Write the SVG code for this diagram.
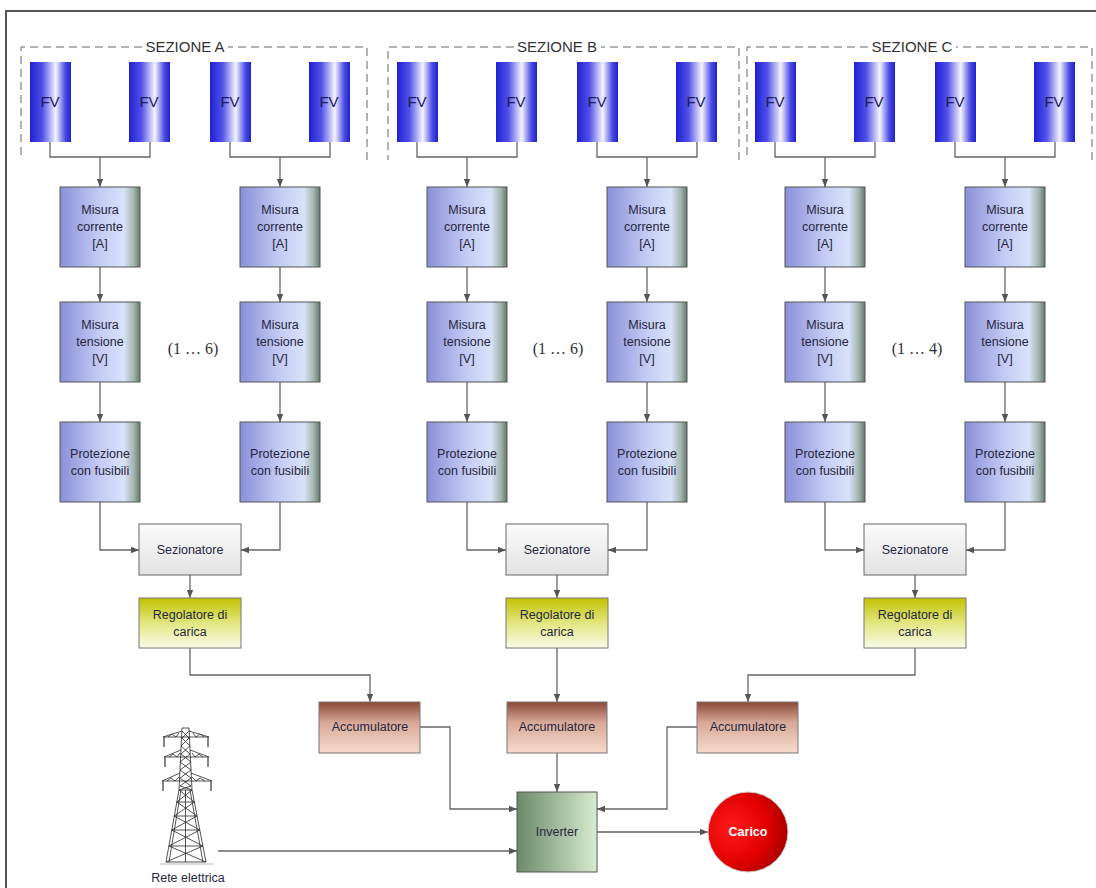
<svg xmlns="http://www.w3.org/2000/svg" width="1096" height="888" viewBox="0 0 1096 888">
  <defs>
    <linearGradient id="gFV" x1="0" y1="0" x2="1" y2="0">
      <stop offset="0" stop-color="#2020d4"/>
      <stop offset="0.3" stop-color="#5050e8"/>
      <stop offset="0.63" stop-color="#f4f4ff"/>
      <stop offset="0.86" stop-color="#4c4ce4"/>
      <stop offset="1" stop-color="#2020cc"/>
    </linearGradient>
    <linearGradient id="gMis" x1="0" y1="0" x2="1" y2="0">
      <stop offset="0" stop-color="#8a90d8"/>
      <stop offset="0.5" stop-color="#c4ccf4"/>
      <stop offset="0.8" stop-color="#d8e2fa"/>
      <stop offset="0.92" stop-color="#a4b6ae"/>
      <stop offset="1" stop-color="#66796c"/>
    </linearGradient>
    <linearGradient id="gSez" x1="0" y1="0" x2="0" y2="1">
      <stop offset="0" stop-color="#fbfbfb"/>
      <stop offset="1" stop-color="#e2e2e2"/>
    </linearGradient>
    <linearGradient id="gReg" x1="0" y1="0" x2="0" y2="1">
      <stop offset="0" stop-color="#c2c200"/>
      <stop offset="0.5" stop-color="#e2e680"/>
      <stop offset="1" stop-color="#f8fce8"/>
    </linearGradient>
    <linearGradient id="gAcc" x1="0" y1="0" x2="0" y2="1">
      <stop offset="0" stop-color="#8a4836"/>
      <stop offset="0.4" stop-color="#d8a898"/>
      <stop offset="1" stop-color="#f6dccc"/>
    </linearGradient>
    <linearGradient id="gInv" x1="0" y1="0" x2="1" y2="0">
      <stop offset="0" stop-color="#6a8a68"/>
      <stop offset="1" stop-color="#d8ecd0"/>
    </linearGradient>
    <radialGradient id="gCar" cx="0.3" cy="0.45" r="0.75">
      <stop offset="0" stop-color="#ff1a1a"/>
      <stop offset="0.6" stop-color="#e00000"/>
      <stop offset="1" stop-color="#a00000"/>
    </radialGradient>
    <marker id="ah" viewBox="0 0 10 10" refX="10" refY="5" markerWidth="8" markerHeight="8" markerUnits="userSpaceOnUse" orient="auto">
      <path d="M0,1 L10,5 L0,9 z" fill="#555"/>
    </marker>
  </defs>
  <style>
    text { font-family: "Liberation Sans", Arial, sans-serif; fill: #262640; text-anchor: middle; }
    .lbl { font-size: 12.5px; }
    .fvt { font-size: 15px; fill: #1c1c5a; }
    .ttl { font-size: 15px; fill: #333; }
    .cnt { font-family: "Liberation Serif", "Times New Roman", serif; font-size: 16px; fill: #333; }
    .fv { fill: url(#gFV); }
    .mis { fill: url(#gMis); stroke: #555; stroke-width: 1; }
    .sez { fill: url(#gSez); stroke: #666; stroke-width: 1; }
    .reg { fill: url(#gReg); stroke: #777; stroke-width: 1; }
    .acc { fill: url(#gAcc); stroke: #777; stroke-width: 1; }
    .inv { fill: url(#gInv); stroke: #555; stroke-width: 1; }
    .sect { fill: none; stroke: #666; stroke-width: 1; stroke-dasharray: 8 5; }
    .wire { fill: none; stroke: #666; stroke-width: 1.3; }
    .arr { fill: none; stroke: #666; stroke-width: 1.3; marker-end: url(#ah); }
    .pylon { fill: none; stroke: #2a2a2a; stroke-width: 0.8; }
  </style>

  <rect x="0" y="0" width="1096" height="888" fill="#ffffff"/>
  <!-- outer frame -->
  <path d="M6,888 V11 H1096" fill="none" stroke="#555" stroke-width="2"/>

  <!-- section frames -->
  <g id="sezione-a">
    <path class="sect" d="M142,47 H21 V160 M367,160 V47 H228"/>
    <text class="ttl" x="185" y="52">SEZIONE A</text>
  </g>
  <g id="sezione-b">
    <path class="sect" d="M514,47 H388 V160 M739,160 V47 H601"/>
    <text class="ttl" x="557" y="52">SEZIONE B</text>
  </g>
  <g id="sezione-c">
    <path class="sect" d="M868,47 H747 V160 M1092,160 V47 H956"/>
    <text class="ttl" x="912" y="52">SEZIONE C</text>
  </g>

  <!-- connectors -->
  <g id="connectors">
    <!-- panel pairs -->
    <path class="wire" d="M50,142 V157 H150 V142 M230,142 V157 H330 V142"/>
    <path class="wire" d="M417,142 V157 H517 V142 M597,142 V157 H697 V142"/>
    <path class="wire" d="M775,142 V157 H875 V142 M955,142 V157 H1055 V142"/>
    <!-- vertical chains -->
    <path class="arr" d="M100,157 V187"/><path class="arr" d="M100,267 V302"/><path class="arr" d="M100,382 V422"/>
    <path class="arr" d="M280,157 V187"/><path class="arr" d="M280,267 V302"/><path class="arr" d="M280,382 V422"/>
    <path class="arr" d="M467,157 V187"/><path class="arr" d="M467,267 V302"/><path class="arr" d="M467,382 V422"/>
    <path class="arr" d="M647,157 V187"/><path class="arr" d="M647,267 V302"/><path class="arr" d="M647,382 V422"/>
    <path class="arr" d="M825,157 V187"/><path class="arr" d="M825,267 V302"/><path class="arr" d="M825,382 V422"/>
    <path class="arr" d="M1005,157 V187"/><path class="arr" d="M1005,267 V302"/><path class="arr" d="M1005,382 V422"/>
    <!-- into disconnectors -->
    <path class="arr" d="M100,502 V550 H139"/><path class="arr" d="M280,502 V550 H241"/>
    <path class="arr" d="M467,502 V550 H506"/><path class="arr" d="M647,502 V550 H608"/>
    <path class="arr" d="M825,502 V550 H864"/><path class="arr" d="M1005,502 V550 H966"/>
    <!-- disconnector to charge regulator -->
    <path class="arr" d="M190,575 V598"/>
    <path class="arr" d="M557,575 V598"/>
    <path class="arr" d="M915,575 V598"/>
    <!-- regulators to batteries -->
    <path class="arr" d="M190,648 V675 H370 V702"/>
    <path class="arr" d="M557,648 V702"/>
    <path class="arr" d="M915,648 V675 H748 V702"/>
    <!-- batteries to inverter -->
    <path class="arr" d="M420,727 H450 V809 H517"/>
    <path class="arr" d="M557,753 V792"/>
    <path class="arr" d="M697,727 H667 V809 H597"/>
    <!-- grid and load -->
    <path class="arr" d="M218,851 H517"/>
    <path class="arr" d="M597,832 H708"/>
  </g>

  <!-- photovoltaic strings -->
  <g id="fv-a">
    <rect class="fv" x="30" y="62" width="41" height="80"/><text class="fvt" x="50" y="107">FV</text>
    <rect class="fv" x="129" y="62" width="41" height="80"/><text class="fvt" x="149" y="107">FV</text>
    <rect class="fv" x="210" y="62" width="41" height="80"/><text class="fvt" x="230" y="107">FV</text>
    <rect class="fv" x="309" y="62" width="41" height="80"/><text class="fvt" x="329" y="107">FV</text>
  </g>
  <g id="fv-b">
    <rect class="fv" x="397" y="62" width="41" height="80"/><text class="fvt" x="417" y="107">FV</text>
    <rect class="fv" x="496" y="62" width="41" height="80"/><text class="fvt" x="516" y="107">FV</text>
    <rect class="fv" x="577" y="62" width="41" height="80"/><text class="fvt" x="597" y="107">FV</text>
    <rect class="fv" x="676" y="62" width="41" height="80"/><text class="fvt" x="696" y="107">FV</text>
  </g>
  <g id="fv-c">
    <rect class="fv" x="755" y="62" width="41" height="80"/><text class="fvt" x="775" y="107">FV</text>
    <rect class="fv" x="854" y="62" width="41" height="80"/><text class="fvt" x="874" y="107">FV</text>
    <rect class="fv" x="935" y="62" width="41" height="80"/><text class="fvt" x="955" y="107">FV</text>
    <rect class="fv" x="1034" y="62" width="41" height="80"/><text class="fvt" x="1054" y="107">FV</text>
  </g>

  <!-- current measurement -->
  <g id="corrente-a1"><rect class="mis" x="60" y="187" width="80" height="80"/><text class="lbl" x="100" y="214">Misura</text><text class="lbl" x="100" y="231">corrente</text><text class="lbl" x="100" y="248">[A]</text></g>
  <g id="corrente-a2"><rect class="mis" x="240" y="187" width="80" height="80"/><text class="lbl" x="280" y="214">Misura</text><text class="lbl" x="280" y="231">corrente</text><text class="lbl" x="280" y="248">[A]</text></g>
  <g id="corrente-b1"><rect class="mis" x="427" y="187" width="80" height="80"/><text class="lbl" x="467" y="214">Misura</text><text class="lbl" x="467" y="231">corrente</text><text class="lbl" x="467" y="248">[A]</text></g>
  <g id="corrente-b2"><rect class="mis" x="607" y="187" width="80" height="80"/><text class="lbl" x="647" y="214">Misura</text><text class="lbl" x="647" y="231">corrente</text><text class="lbl" x="647" y="248">[A]</text></g>
  <g id="corrente-c1"><rect class="mis" x="785" y="187" width="80" height="80"/><text class="lbl" x="825" y="214">Misura</text><text class="lbl" x="825" y="231">corrente</text><text class="lbl" x="825" y="248">[A]</text></g>
  <g id="corrente-c2"><rect class="mis" x="965" y="187" width="80" height="80"/><text class="lbl" x="1005" y="214">Misura</text><text class="lbl" x="1005" y="231">corrente</text><text class="lbl" x="1005" y="248">[A]</text></g>

  <!-- voltage measurement -->
  <g id="tensione-a1"><rect class="mis" x="60" y="302" width="80" height="80"/><text class="lbl" x="100" y="329">Misura</text><text class="lbl" x="100" y="346">tensione</text><text class="lbl" x="100" y="363">[V]</text></g>
  <g id="tensione-a2"><rect class="mis" x="240" y="302" width="80" height="80"/><text class="lbl" x="280" y="329">Misura</text><text class="lbl" x="280" y="346">tensione</text><text class="lbl" x="280" y="363">[V]</text></g>
  <g id="tensione-b1"><rect class="mis" x="427" y="302" width="80" height="80"/><text class="lbl" x="467" y="329">Misura</text><text class="lbl" x="467" y="346">tensione</text><text class="lbl" x="467" y="363">[V]</text></g>
  <g id="tensione-b2"><rect class="mis" x="607" y="302" width="80" height="80"/><text class="lbl" x="647" y="329">Misura</text><text class="lbl" x="647" y="346">tensione</text><text class="lbl" x="647" y="363">[V]</text></g>
  <g id="tensione-c1"><rect class="mis" x="785" y="302" width="80" height="80"/><text class="lbl" x="825" y="329">Misura</text><text class="lbl" x="825" y="346">tensione</text><text class="lbl" x="825" y="363">[V]</text></g>
  <g id="tensione-c2"><rect class="mis" x="965" y="302" width="80" height="80"/><text class="lbl" x="1005" y="329">Misura</text><text class="lbl" x="1005" y="346">tensione</text><text class="lbl" x="1005" y="363">[V]</text></g>

  <!-- string counts -->
  <g id="conteggi">
    <text class="cnt" x="193" y="354">(1 … 6)</text>
    <text class="cnt" x="558" y="354">(1 … 6)</text>
    <text class="cnt" x="917" y="354">(1 … 4)</text>
  </g>

  <!-- fuse protection -->
  <g id="protezione-a1"><rect class="mis" x="60" y="422" width="80" height="80"/><text class="lbl" x="100" y="458">Protezione</text><text class="lbl" x="100" y="475">con fusibili</text></g>
  <g id="protezione-a2"><rect class="mis" x="240" y="422" width="80" height="80"/><text class="lbl" x="280" y="458">Protezione</text><text class="lbl" x="280" y="475">con fusibili</text></g>
  <g id="protezione-b1"><rect class="mis" x="427" y="422" width="80" height="80"/><text class="lbl" x="467" y="458">Protezione</text><text class="lbl" x="467" y="475">con fusibili</text></g>
  <g id="protezione-b2"><rect class="mis" x="607" y="422" width="80" height="80"/><text class="lbl" x="647" y="458">Protezione</text><text class="lbl" x="647" y="475">con fusibili</text></g>
  <g id="protezione-c1"><rect class="mis" x="785" y="422" width="80" height="80"/><text class="lbl" x="825" y="458">Protezione</text><text class="lbl" x="825" y="475">con fusibili</text></g>
  <g id="protezione-c2"><rect class="mis" x="965" y="422" width="80" height="80"/><text class="lbl" x="1005" y="458">Protezione</text><text class="lbl" x="1005" y="475">con fusibili</text></g>

  <!-- disconnectors -->
  <g id="sezionatore-a"><rect class="sez" x="139" y="524" width="102" height="51"/><text class="lbl" x="190" y="554">Sezionatore</text></g>
  <g id="sezionatore-b"><rect class="sez" x="506" y="524" width="102" height="51"/><text class="lbl" x="557" y="554">Sezionatore</text></g>
  <g id="sezionatore-c"><rect class="sez" x="864" y="524" width="102" height="51"/><text class="lbl" x="915" y="554">Sezionatore</text></g>

  <!-- charge regulators -->
  <g id="regolatore-a"><rect class="reg" x="139" y="598" width="102" height="50"/><text class="lbl" x="190" y="619">Regolatore di</text><text class="lbl" x="190" y="636">carica</text></g>
  <g id="regolatore-b"><rect class="reg" x="506" y="598" width="102" height="50"/><text class="lbl" x="557" y="619">Regolatore di</text><text class="lbl" x="557" y="636">carica</text></g>
  <g id="regolatore-c"><rect class="reg" x="864" y="598" width="102" height="50"/><text class="lbl" x="915" y="619">Regolatore di</text><text class="lbl" x="915" y="636">carica</text></g>

  <!-- batteries -->
  <g id="accumulatore-a"><rect class="acc" x="319" y="702" width="101" height="51"/><text class="lbl" x="370" y="731">Accumulatore</text></g>
  <g id="accumulatore-b"><rect class="acc" x="507" y="702" width="100" height="51"/><text class="lbl" x="557" y="731">Accumulatore</text></g>
  <g id="accumulatore-c"><rect class="acc" x="697" y="702" width="101" height="51"/><text class="lbl" x="748" y="731">Accumulatore</text></g>

  <!-- inverter -->
  <g id="inverter"><rect class="inv" x="517" y="792" width="80" height="80"/><text class="lbl" x="557" y="836">Inverter</text></g>

  <!-- load -->
  <g id="carico"><circle cx="748" cy="832" r="40" fill="url(#gCar)" stroke="#d0d0d0" stroke-width="1"/><text class="lbl" x="748" y="836" style="fill:#ffffff;font-weight:bold">Carico</text></g>

  <!-- power grid pylon -->
  <g id="rete-elettrica">
    <g class="pylon">
      <!-- ground -->
      <path d="M160,864 H213" stroke="#aaa"/>
      <!-- upper shaft -->
      <path d="M182,728 L179,790 M189,728 L192,790 M182,728 H189"/>
      <path d="M182,731 L189,738 L181,746 L190,754 L180,762 L191,770 L180,778 L191,786 L179,790"/>
      <path d="M189,731 L182,738 L190,746 L181,754 L191,762 L180,770 L191,778 L180,786 L192,790"/>
      <!-- cross arms -->
      <path d="M163,737 H209 M163,737 L182,731 M209,737 L189,731 M168,737 L172,734 L176,737 L179,733 M193,733 L196,737 L200,734 L204,737"/>
      <path d="M164,757 H209 M164,757 L181,750 M209,757 L190,750 M169,757 L173,754 L177,757 L180,753 M192,753 L195,757 L199,754 L203,757"/>
      <path d="M162,781 H212 M162,781 L180,773 M212,781 L191,773 M167,781 L171,778 L175,781 L179,777 M192,777 L196,781 L200,778 L205,781"/>
      <!-- insulators -->
      <path d="M164,737 V747 M208,737 V747 M165,757 V767 M208,757 V767 M163,781 V791 M211,781 V791" stroke="#555" stroke-width="1.4"/>
      <!-- legs -->
      <path d="M179,790 L166,862 M192,790 L206,862 M181,790 L169,862 M190,790 L203,862"/>
      <path d="M179,790 H192 M176.8,802 H194.3 M174.3,816 H197.1 M171.8,830 H199.8 M168.9,846 H202.9 M166,862 H206"/>
      <path d="M179,790 L194.3,802 L174.3,816 L199.8,830 L168.9,846 L206,862"/>
      <path d="M192,790 L176.8,802 L197.1,816 L171.8,830 L202.9,846 L166,862"/>
      <path d="M185.5,790 V862"/>
    </g>
    <text class="lbl" x="188" y="882">Rete elettrica</text>
  </g>
</svg>
